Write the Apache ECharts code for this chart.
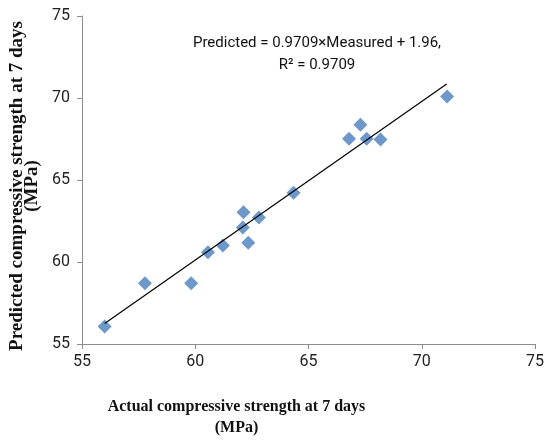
<!DOCTYPE html>
<html>
<head>
<meta charset="utf-8">
<script src="https://cdn.jsdelivr.net/npm/echarts@6/dist/echarts.min.js"></script>
<style>
  html, body { margin: 0; padding: 0; background: #fff; }
  #chart { width: 550px; height: 444px; }
</style>
</head>
<body>
<div id="chart"></div>
<script>
// measured vs predicted strength
const measured  = [56.0, 57.78, 59.82, 60.56, 61.22, 62.10, 62.13, 62.34, 62.81, 64.34, 66.79, 67.29, 67.57, 68.18, 71.12];
const predicted = [56.07, 58.71, 58.71, 60.60, 61.00, 62.10, 63.03, 61.17, 62.71, 64.23, 67.52, 68.37, 67.52, 67.47, 70.09];
// trend line end points
const trendX = [56.0, 71.1];
const trendY = [56.25, 70.85];
const axisTicks = [55, 60, 65, 70, 75];

const points = measured.map((m, i) => [m, predicted[i]]);
const trend = trendX.map((x, i) => [x, trendY[i]]);

const chart = echarts.init(document.getElementById('chart'));
const tickFont = 'Roboto, sans-serif';
const titleFont = '"Liberation Serif", "Times New Roman", serif';

const option = {
  animation: false,
  grid: { left: 82, right: 15, top: 16, bottom: 100, outerBoundsMode: 'none' },
  xAxis: {
    type: 'value',
    min: axisTicks[0], max: axisTicks[axisTicks.length - 1], interval: 5,
    name: 'Actual compressive strength at 7 days\n(MPa)',
    nameLocation: 'middle',
    nameGap: 52,
    nameTextStyle: {
      fontFamily: titleFont, fontWeight: 'bold', fontSize: 16, color: '#111', lineHeight: 21,
      padding: [0, 144, 0, 0]
    },
    axisLine: { lineStyle: { color: '#8c8c8c' } },
    axisTick: { show: true, length: 5, lineStyle: { color: '#8c8c8c' } },
    axisLabel: { fontFamily: tickFont, fontSize: 16, color: '#222', margin: 10 },
    splitLine: { show: false }
  },
  yAxis: {
    type: 'value',
    min: axisTicks[0], max: axisTicks[axisTicks.length - 1], interval: 5,
    name: 'Predicted compressive strength at 7 days\n(MPa)',
    nameLocation: 'middle',
    nameGap: 37,
    nameTextStyle: {
      fontFamily: titleFont, fontWeight: 'bold', fontSize: 19, color: '#111', lineHeight: 15,
      padding: [0, 12, 0, 0]
    },
    axisLine: { show: true, lineStyle: { color: '#8c8c8c' } },
    axisTick: { show: true, length: 5, lineStyle: { color: '#8c8c8c' } },
    axisLabel: { fontFamily: tickFont, fontSize: 16, color: '#222', margin: 12 },
    splitLine: { show: false }
  },
  graphic: [{
    type: 'text',
    x: 317, y: 32,
    style: {
      text: 'Predicted = 0.9709×Measured + 1.96,\nR² = 0.9709',
      fontFamily: tickFont, fontSize: 15, lineHeight: 22,
      fill: '#111', align: 'center'
    }
  }],
  series: [
    {
      type: 'line',
      data: trend,
      symbol: 'none',
      lineStyle: { color: '#000', width: 1.2 },
      z: 3
    },
    {
      type: 'scatter',
      data: points,
      symbol: 'diamond',
      symbolSize: [14, 14],
      itemStyle: { color: '#4a7ebb' },
      z: 2
    }
  ]
};
chart.setOption(option);
</script>
</body>
</html>
